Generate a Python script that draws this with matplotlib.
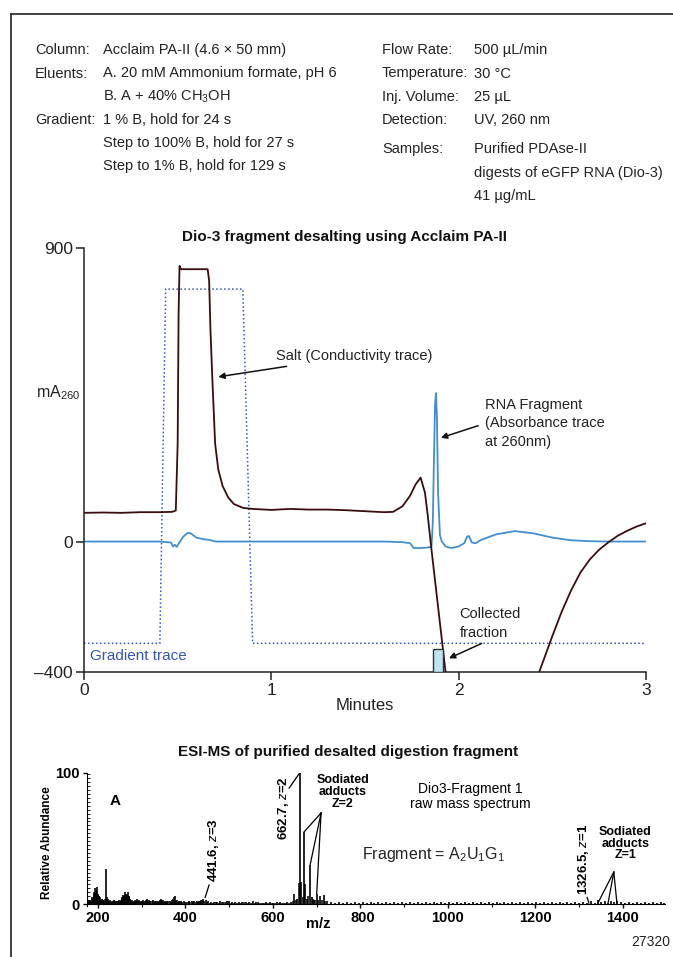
import numpy as np
import matplotlib.pyplot as plt
from matplotlib.lines import Line2D
from matplotlib.patches import Rectangle

arial = ['Liberation Sans', 'DejaVu Sans']
plt.rcParams['font.family'] = arial
plt.rcParams['mathtext.fontset'] = 'custom'
plt.rcParams['mathtext.rm'] = 'Liberation Sans'
plt.rcParams['mathtext.it'] = 'Liberation Sans:italic'
plt.rcParams['mathtext.bf'] = 'Liberation Sans:bold'

W, H = 673, 957

# conductivity trace (salt), mA260 vs minutes
cond_t = [0, 0.1, 0.2, 0.3, 0.4, 0.47, 0.49, 0.50, 0.505, 0.51, 0.515, 0.52, 0.60, 0.66,
          0.668, 0.675, 0.685, 0.70, 0.717, 0.74, 0.77, 0.80, 0.85, 0.9, 1.0, 1.1, 1.2,
          1.3, 1.4, 1.5, 1.6, 1.65, 1.7, 1.74, 1.77, 1.797, 1.82, 1.835, 1.85, 1.89,
          1.93, 1.97, 2.1, 2.3, 2.43, 2.5, 2.55, 2.6, 2.65, 2.7, 2.75, 2.8, 2.85, 2.9,
          2.95, 3.0]
cond_v = [88, 89, 88, 90, 90, 91, 95, 300, 700, 845, 838, 835, 835, 835,
          800, 650, 500, 300, 220, 170, 135, 115, 103, 100, 97, 100, 98,
          98, 96, 93, 90, 91, 108, 140, 175, 196, 150, 80, 0, -200,
          -400, -560, -700, -560, -400, -290, -215, -150, -95, -55, -25, -2, 18, 33,
          46, 56]

# absorbance trace at 260 nm
abs_t = [0, 0.40, 0.465, 0.475, 0.485, 0.495, 0.51, 0.53, 0.555, 0.57, 0.60, 0.64, 0.67,
         0.70, 0.75, 1.0, 1.6, 1.70, 1.74, 1.76, 1.80, 1.84, 1.855, 1.862, 1.868, 1.874,
         1.879, 1.884, 1.89, 1.90, 1.91, 1.93, 1.96, 2.0, 2.03, 2.045, 2.055, 2.07, 2.09,
         2.12, 2.2, 2.3, 2.4, 2.5, 2.6, 2.7, 2.8, 3.0]
abs_v = [0, 0, -3, -15, -10, -16, -2, 15, 27, 25, 12, 7, 5,
         0, 0, 0, 0, -2, -5, -20, -20, -18, -15, 60, 250, 420,
         455, 380, 150, 20, 0, -15, -20, -15, -5, 15, 17, -3, -5,
         5, 22, 32, 25, 12, 4, 1, 0, 0]

# gradient trace (scaled to the chart)
grad_t = [0, 0.405, 0.436, 0.848, 0.90, 3.0]
grad_v = [-312, -312, 774, 774, -312, -312]

# collected fraction window
frac_t = (1.862, 1.918)
frac_v = (-400, -331)

# ESI-MS spectrum: m/z and relative abundance
ms_mz = [178, 182, 186, 189, 191, 193, 195, 197, 199, 201, 203, 206, 209, 212, 218, 221,
         224, 228, 232, 236, 240, 244, 248, 252, 255, 258, 262, 265, 268, 271, 274, 278,
         282, 286, 290, 294, 298, 303, 308, 312, 316, 320, 325, 330, 335, 340, 344, 348,
         353, 358, 364, 369, 376, 380, 385, 390, 396, 402, 408, 414, 420, 426, 431, 436,
         440, 446, 452, 458, 465, 472, 479, 486, 494, 499, 506, 514, 522, 530, 538, 546,
         554, 561, 569, 577, 585, 593, 601, 609, 617, 625, 633, 641, 648, 652, 656, 662.7,
         665, 671, 674, 678, 685, 689, 694, 700, 704, 708, 716, 724, 733, 742, 751,
         760, 769, 778, 787, 796, 805, 814, 823, 832, 841, 850, 859, 868, 877, 886, 895,
         904, 913, 922, 931, 940, 949, 958, 967, 976, 985, 994, 1003, 1012, 1021, 1030,
         1039, 1048, 1057, 1066, 1075, 1084, 1093, 1102, 1111, 1120, 1129, 1138, 1147,
         1156, 1165, 1174, 1183, 1192, 1201, 1210, 1219, 1228, 1237, 1246, 1255, 1264,
         1273, 1282, 1291, 1300, 1309, 1318, 1326.5, 1335, 1343, 1350, 1358, 1366, 1372,
         1380, 1386, 1396, 1405, 1414, 1423, 1432, 1441, 1450, 1459, 1468, 1477, 1486, 1494]
ms_int = [2, 3, 5, 4, 9, 12, 10, 13, 8, 5, 6, 3, 4, 3, 27, 5,
          4, 3, 2, 3, 2, 2, 3, 3, 5, 7, 9, 8, 9, 6, 4, 3,
          2, 2, 4, 3, 2, 3, 2, 4, 3, 2, 3, 2, 2, 2, 4, 3,
          2, 2, 2, 3, 6, 3, 2, 2, 2, 1.5, 2, 2, 2, 2, 2, 3,
          4, 3, 2, 1.5, 1.5, 1.5, 2, 1.5, 2.5, 2, 1.5, 1.5, 1.5, 1.5, 1.5, 1.5,
          2, 1.5, 1, 1, 1.5, 1.5, 1, 1.5, 1.5, 1, 1.5, 1.5, 8, 3, 4, 100,
          17, 55, 15, 4, 30, 5, 3, 8, 3, 6, 7, 2, 1.5, 1, 1.5,
          1, 1.5, 1, 1.2, 1, 1.5, 1, 1.2, 1, 1.5, 1, 1.2, 1, 1.5, 1, 1.2,
          1, 1.5, 1, 1.2, 1, 1.5, 1, 1.2, 1, 1.5, 1, 1.2, 1, 1.5, 1,
          1.2, 1, 1.5, 1, 1.2, 1, 1.5, 1, 1.2, 1, 1.5, 1, 1.2,
          1, 1.5, 1, 1.2, 1, 1.5, 1, 1.2, 1, 1.5, 1, 1.2, 1,
          1.5, 1, 1.2, 1, 1.5, 1, 2, 1, 3, 1.5, 2.5, 1, 2.5,
          1.5, 2, 1.5, 1, 1.2, 1, 1.5, 1, 1.2, 1, 1.5, 1, 1.2, 1]

# extra small clutter peaks between the labelled ones
noise_mz = [180, 184, 188, 190, 192, 194, 196, 198, 200, 202, 205, 208, 211, 214, 216, 220,
            223, 226, 230, 234, 238, 242, 246, 250, 254, 256, 260, 263, 264, 267, 270, 273,
            276, 280, 284, 288, 292, 296, 300, 306, 310, 314, 318, 323, 328, 333, 338, 342,
            346, 351, 356, 361, 366, 372, 374, 378, 383, 388, 393, 399, 405, 411, 417, 423,
            429, 434, 438, 443, 449, 455, 462, 469, 476, 483, 490, 496, 503, 510, 518, 526,
            534, 542, 550, 558, 565, 573, 581, 589, 597, 605, 613, 621, 629, 637, 645, 660,
            668, 681, 692, 697, 712, 720]
noise_int = [3, 2, 4, 6, 8, 7, 11, 9, 7, 4, 5, 2, 3, 2, 4, 3,
             2, 2, 1.5, 2, 1.5, 2, 2, 2, 3, 4, 6, 7, 6, 7, 5, 3,
             2.5, 1.5, 3, 2, 2, 1.5, 2, 1.5, 3, 2.5, 2, 2, 1.5, 2, 1.5, 3,
             2, 1.5, 1.5, 2, 1.5, 4, 5, 2, 1.5, 1.5, 1.5, 1, 1.5, 1.5, 1.5, 1.5,
             1.5, 2, 3, 2.5, 1.5, 1, 1, 1.5, 1, 1.5, 1.5, 2, 1, 1, 1, 1,
             1.5, 1, 1, 1, 1.5, 1, 1, 1, 1, 1, 1, 1, 1, 1, 2, 16,
             5, 6, 4, 3, 3, 2]

cond_color = '#3a0d10'
abs_color = '#3f8fd2'
grad_color = '#3556b5'
txt = '#222222'


def fx(x):
    return x / W


def fy(y):
    return 1 - y / H


fig = plt.figure(figsize=(W / 100, H / 100), dpi=100)

# frame lines of the page
fig.add_artist(Line2D([fx(11), fx(11)], [0, fy(14)], color=txt, lw=1.2))
fig.add_artist(Line2D([fx(11), 1], [fy(14), fy(14)], color=txt, lw=1.2))

# header text
hs = 10.5
left_lab = ['Column:', 'Eluents:', '', 'Gradient:', '', '']
left_val = ['Acclaim PA-II (4.6 × 50 mm)', 'A. 20 mM Ammonium formate, pH 6',
            'B. A + 40% CH$_3$OH', '1 % B, hold for 24 s',
            'Step to 100% B, hold for 27 s', 'Step to 1% B, hold for 129 s']
left_y = [50, 73.5, 96.5, 119.5, 143, 166]
for lab, val, y in zip(left_lab, left_val, left_y):
    fig.text(fx(35), fy(y), lab, fontsize=hs, va='center', color=txt)
    fig.text(fx(103), fy(y), val, fontsize=hs, va='center', color=txt)
right_lab = ['Flow Rate:', 'Temperature:', 'Inj. Volume:', 'Detection:', 'Samples:', '', '']
right_val = ['500 µL/min', '30 °C', '25 µL', 'UV, 260 nm', 'Purified PDAse-II',
             'digests of eGFP RNA (Dio-3)', '41 µg/mL']
right_y = [50, 73.5, 96.5, 119.5, 149, 173, 196]
for lab, val, y in zip(right_lab, right_val, right_y):
    fig.text(fx(382), fy(y), lab, fontsize=hs, va='center', color=txt)
    fig.text(fx(474), fy(y), val, fontsize=hs, va='center', color=txt)

# ---- chromatogram ----
ax = fig.add_axes([fx(84), fy(672), fx(646) - fx(84), fy(248) - fy(672)])
ax.plot(grad_t, grad_v, color=grad_color, lw=1.1, ls=(0, (1, 1.6)))
ax.plot(abs_t, abs_v, color=abs_color, lw=1.3)
ax.plot(cond_t, cond_v, color=cond_color, lw=1.3)
ax.add_patch(Rectangle((frac_t[0], frac_v[0]), frac_t[1] - frac_t[0], frac_v[1] - frac_v[0],
                       facecolor='#bfe4f6', edgecolor='#333333', lw=1, zorder=3))
ax.set_xlim(0, 3)
ax.set_ylim(-400, 900)
ax.set_xticks([0, 1, 2, 3])
ax.set_yticks([-400, 0, 900])
ax.set_yticklabels(['\u2013400', '0', '900'])
for s in ['top', 'right']:
    ax.spines[s].set_visible(False)
for s in ['left', 'bottom']:
    ax.spines[s].set_linewidth(1.1)
    ax.spines[s].set_color(txt)
ax.tick_params(labelsize=12.5, length=6, width=1.1, color=txt, labelcolor=txt, pad=2)
ax.set_xlabel('Minutes', fontsize=12, labelpad=0, color=txt)
fig.text(fx(36), fy(393), 'mA$_{260}$', fontsize=11.5, va='center', ha='left', color=txt)
fig.text(fx(344), fy(237), 'Dio-3 fragment desalting using Acclaim PA-II', fontsize=11,
         fontweight='bold', ha='center', va='center', color='#111111')

ax.annotate('Salt (Conductivity trace)', xy=(0.717, 505), xytext=(1.027, 569),
            fontsize=10.5, va='center', color=txt,
            arrowprops=dict(arrowstyle='-|>', color='#111111', lw=1.1, mutation_scale=9,
                            shrinkA=3, shrinkB=0))
ax.annotate('RNA Fragment\n(Absorbance trace\nat 260nm)', xy=(1.905, 318), xytext=(2.14, 362),
            fontsize=10.5, va='center', color=txt, linespacing=1.45,
            arrowprops=dict(arrowstyle='-|>', color='#111111', lw=1.1, mutation_scale=9,
                            shrinkA=3, shrinkB=0, relpos=(0, 0.5)))
ax.annotate('Collected\nfraction', xy=(1.948, -358), xytext=(2.005, -250),
            fontsize=10.5, va='center', color=txt, linespacing=1.45,
            arrowprops=dict(arrowstyle='-|>', color='#111111', lw=1.1, mutation_scale=9,
                            shrinkA=2, shrinkB=0, relpos=(0.5, 0)))
ax.text(0.032, -351, 'Gradient trace', fontsize=11, color=grad_color, va='center')

# ---- mass spectrum ----
bx = fig.add_axes([fx(87), fy(906), fx(665) - fx(87), fy(773) - fy(906)])
bx.vlines(noise_mz, 0, noise_int, color='black', lw=1.1)
bx.vlines(ms_mz, 0, ms_int, color='black', lw=1.2)
bx.set_xlim(175, 1496)
bx.set_ylim(-1.5, 100)
bx.set_xticks([200, 400, 600, 800, 1000, 1200, 1400])
bx.set_xticks([300, 500, 700, 900, 1100, 1300], minor=True)
bx.set_xticklabels(['200', '400', '600', '', '1000', '1200', '1400'])
bx.set_yticks([0, 100])
bx.set_yticks(np.arange(0, 101, 3), minor=True)
bx.spines['bottom'].set_position(('data', 0))
for s in ['top', 'right']:
    bx.spines[s].set_visible(False)
for lab in bx.get_xticklabels() + bx.get_yticklabels():
    lab.set_fontweight('bold')
bx.tick_params(labelsize=10.5, length=3, width=1, pad=2)
bx.tick_params(axis='y', which='minor', length=2, direction='in', width=0.6)
bx.tick_params(axis='x', which='minor', length=2, width=0.8)
bx.set_ylabel('Relative Abundance', fontsize=8.5, fontweight='bold')
bx.yaxis.set_label_coords(-0.058, 0.48)
fig.text(fx(348), fy(752), 'ESI-MS of purified desalted digestion fragment', fontsize=11,
         fontweight='bold', ha='center', va='center', color='#111111')
fig.text(fx(363), fy(918), '800', fontsize=10.5, fontweight='bold', ha='center', va='center')
fig.text(fx(318), fy(924), 'm/z', fontsize=10.5, fontweight='bold', ha='center', va='center')

bx.text(239, 79, 'A', fontsize=11, fontweight='bold', ha='center', va='center')
bx.text(463, 41, '441.6, $\\mathbf{\\mathit{z}}$=3', fontsize=9.5, fontweight='bold',
        rotation=90, ha='center', va='center')
bx.plot([454, 445], [14.5, 5], color='black', lw=0.9)
bx.text(623, 73, '662.7, $\\mathbf{\\mathit{z}}$=2', fontsize=9.5, fontweight='bold',
        rotation=90, ha='center', va='center')
bx.plot([637, 661], [88.5, 100], color='black', lw=0.9)
bx.text(760, 85.5, 'Sodiated\nadducts\nZ=2', fontsize=9, fontweight='bold',
        ha='center', va='center', linespacing=0.95)
for mz_p, h in [(671, 55), (685, 30), (700, 8)]:
    bx.plot([710, mz_p], [69.5, h], color='black', lw=0.9)
bx.text(1050, 82, 'Dio3-Fragment 1\nraw mass spectrum', fontsize=10,
        ha='center', va='center', linespacing=1.1)
bx.text(803, 38, 'Fragment = A$_2$U$_1$G$_1$', fontsize=11.5, ha='left', va='center',
        color=txt)
bx.text(1309, 34, '1326.5, $\\mathbf{\\mathit{z}}$=1', fontsize=9.5, fontweight='bold',
        rotation=90, ha='center', va='center')
bx.plot([1318, 1322], [5, 0.8], color='black', lw=0.9)
bx.text(1405, 46, 'Sodiated\nadducts\nZ=1', fontsize=9, fontweight='bold',
        ha='center', va='center', linespacing=0.95)
for mz_p in [1343, 1366, 1386]:
    bx.plot([1379, mz_p], [24.4, 1], color='black', lw=0.9)

fig.text(fx(670), fy(942), '27320', fontsize=10, ha='right', va='center', color=txt)

fig.savefig('out.png', dpi=100)
